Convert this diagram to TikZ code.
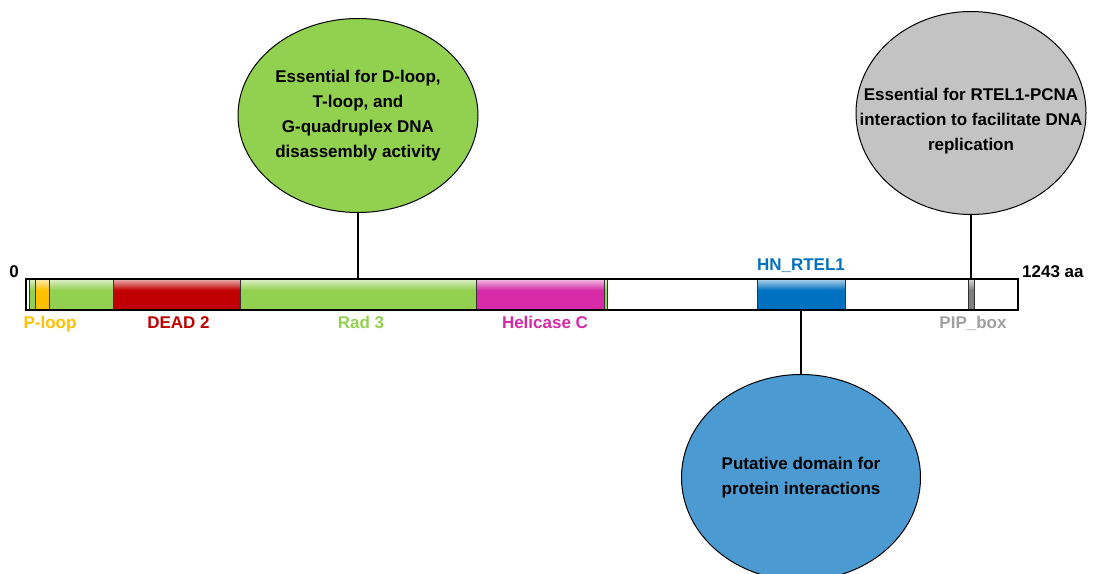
\documentclass[tikz,border=0pt]{standalone}
\usepackage{fontspec}
\setmainfont{Liberation Sans}
\usepackage{tikz}
\usetikzlibrary{positioning,shapes.geometric}

\definecolor{rtgreen}{RGB}{146,208,80}
\definecolor{rtred}{RGB}{192,0,0}
\definecolor{rtyellow}{RGB}{255,192,0}
\definecolor{rtpink}{RGB}{214,42,166}
\definecolor{rtblue}{RGB}{0,112,192}
\definecolor{rtgray}{RGB}{128,128,128}
\definecolor{pipgray}{RGB}{160,160,160}
\definecolor{bubblegray}{RGB}{195,195,195}
\definecolor{bubbleblue}{RGB}{75,155,210}

% glossy domain fill: light at the top edge, solid below
\colorlet{segcol}{gray}
\pgfdeclareverticalshading[segcol]{gloss}{100bp}{color(0bp)=(segcol); color(57bp)=(segcol); color(75bp)=(segcol!30!white); color(100bp)=(segcol!30!white)}

\tikzset{
  seg/.style={draw=black!80, line width=0.8pt, minimum height=31, minimum width=#1,
    inner sep=0, outer sep=0},
  glossy/.style={shade, shading=gloss, /utils/exec={\colorlet{segcol}{#1}}},
  lbl/.style={font=\bfseries\fontsize{17}{20}\selectfont, inner sep=0},
  bubble/.style={ellipse, draw, line width=1pt, inner sep=0, align=center,
    font=\bfseries\fontsize{17}{25}\selectfont},
  stem/.style={line width=1.6pt}
}

\begin{document}
\begin{tikzpicture}[x=1pt, y=-1pt]
  \useasboundingbox (0,0) rectangle (1094,573);

  % protein bar, N- to C-terminus
  \node[seg=3, fill=white, anchor=west] (w1) at (26,294.5) {};
  \node[seg=6, glossy=rtgreen, right=0pt of w1] (g1) {};
  \node[seg=14, glossy=rtyellow, right=0pt of g1] (ploop) {};
  \node[seg=64, glossy=rtgreen, right=0pt of ploop] (g2) {};
  \node[seg=127, glossy=rtred, right=0pt of g2] (dead) {};
  \node[seg=236, glossy=rtgreen, right=0pt of dead] (rad3) {};
  \node[seg=128, glossy=rtpink, right=0pt of rad3] (helc) {};
  \node[seg=3, glossy=rtgreen, right=0pt of helc] (g3) {};
  \node[seg=150, fill=white, right=0pt of g3] (w2) {};
  \node[seg=88, glossy=rtblue, right=0pt of w2] (hn) {};
  \node[seg=123, fill=white, right=0pt of hn] (w3) {};
  \node[seg=6, glossy=rtgray, right=0pt of w3] (pip) {};
  \node[seg=44, fill=white, right=0pt of pip] (w4) {};
  \draw[line width=1.5pt] (w1.north west) rectangle (w4.south east);

  % ends and domain names
  \node[lbl, above left=1pt and 7pt of w1.north west] (nterm) {0};
  \node[lbl, above right=1pt and 4pt of w4.north east] (cterm) {1243 aa};
  \node[lbl, text=rtyellow, below=6pt of ploop, xshift=8pt] {P-loop};
  \node[lbl, text=rtred, below=6pt of dead, xshift=2pt] {DEAD 2};
  \node[lbl, text=rtgreen, below=6pt of rad3, xshift=3pt] {Rad 3};
  \node[lbl, text=rtpink, below=6pt of helc, xshift=5pt] {Helicase C};
  \node[lbl, text=pipgray, below=6pt of pip, xshift=2pt] {PIP\_box};
  \node[lbl, text=rtblue, above=6pt of hn] {HN\_RTEL1};

  % functions
  \node[bubble, fill=rtgreen, minimum width=240, minimum height=194, above=66pt of rad3] (dloop)
    {Essential for D-loop,\\T-loop, and\\G-quadruplex DNA\\disassembly activity};
  \node[bubble, fill=bubbleblue, minimum width=239, minimum height=206, below=64pt of hn] (inter)
    {Putative domain for\\protein interactions};
  % text runs wider than this one, so it sits on top
  \node[bubble, fill=bubblegray, minimum width=230, minimum height=203, above=64pt of pip] (pcna) {};
  \node[bubble, draw=none, yshift=-8pt] (pcnatext) at (pcna)
    {Essential for RTEL1-PCNA\\interaction to facilitate DNA\\replication};

  \draw[stem] (rad3.north) -- (dloop);
  \draw[stem] (hn.south) -- (inter);
  \draw[stem] (pip.north) -- (pcna);
\end{tikzpicture}
\end{document}
